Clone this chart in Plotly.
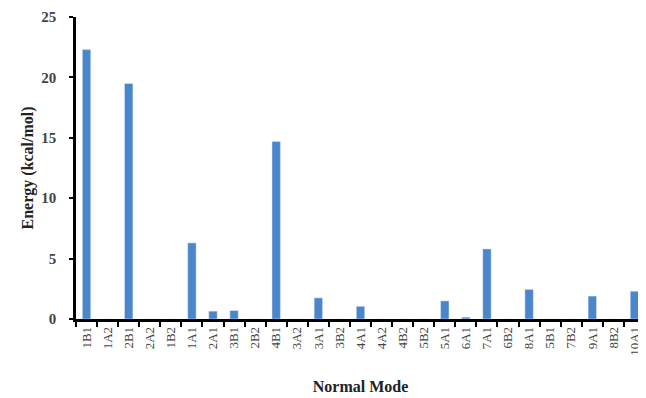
import plotly.graph_objects as go

modes = ["1B1", "1A2", "2B1", "2A2", "1B2", "1A1", "2A1", "3B1", "2B2", "4B1",
         "3A2", "3A1", "3B2", "4A1", "4A2", "4B2", "5B2", "5A1", "6A1", "7A1",
         "6B2", "8A1", "5B1", "7B2", "9A1", "8B2", "10A1"]
energy = [22.3, 0, 19.5, 0, 0, 6.3, 0.65, 0.7, 0, 14.7,
          0, 1.75, 0, 1.05, 0, 0, 0, 1.5, 0.15, 5.8,
          0, 2.45, 0, 0, 1.9, 0, 2.3]

fig = go.Figure(go.Bar(x=modes, y=energy, marker_color="#4a86cc", width=0.4))

serif = "Liberation Serif"
# page body has an 8px margin, so size the figure to fit the visible window
fig.update_layout(
    width=638, height=390,
    margin=dict(l=68, r=1, t=9, b=79),
    paper_bgcolor="white", plot_bgcolor="white",
    showlegend=False,
    font=dict(family=serif, color="#333333"),
)
fig.update_xaxes(
    type="category", tickangle=-90, tickson="boundaries",
    ticks="outside", ticklen=5, tickwidth=2, tickcolor="black",
    showline=True, linecolor="black", linewidth=2.5,
    tickfont=dict(family=serif, size=13, color="#444444"),
    title=dict(text="<b>Normal Mode</b>", font=dict(family=serif, size=16, color="#222222"), standoff=26),
    showgrid=False, automargin=False,
)
fig.update_yaxes(
    range=[0, 25], tickvals=[0, 5, 10, 15, 20, 25],
    ticks="outside", ticklen=4, tickwidth=2, tickcolor="black",
    ticklabelstandoff=10,
    showline=True, linecolor="black", linewidth=2.5,
    tickfont=dict(family=serif, size=15, color="#444444", weight="bold"),
    title=dict(text="<b>Energy (kcal/mol)</b>", font=dict(family=serif, size=16, color="#222222"), standoff=4),
    showgrid=False, zeroline=False, automargin=False,
)
fig.write_html("out.html")
